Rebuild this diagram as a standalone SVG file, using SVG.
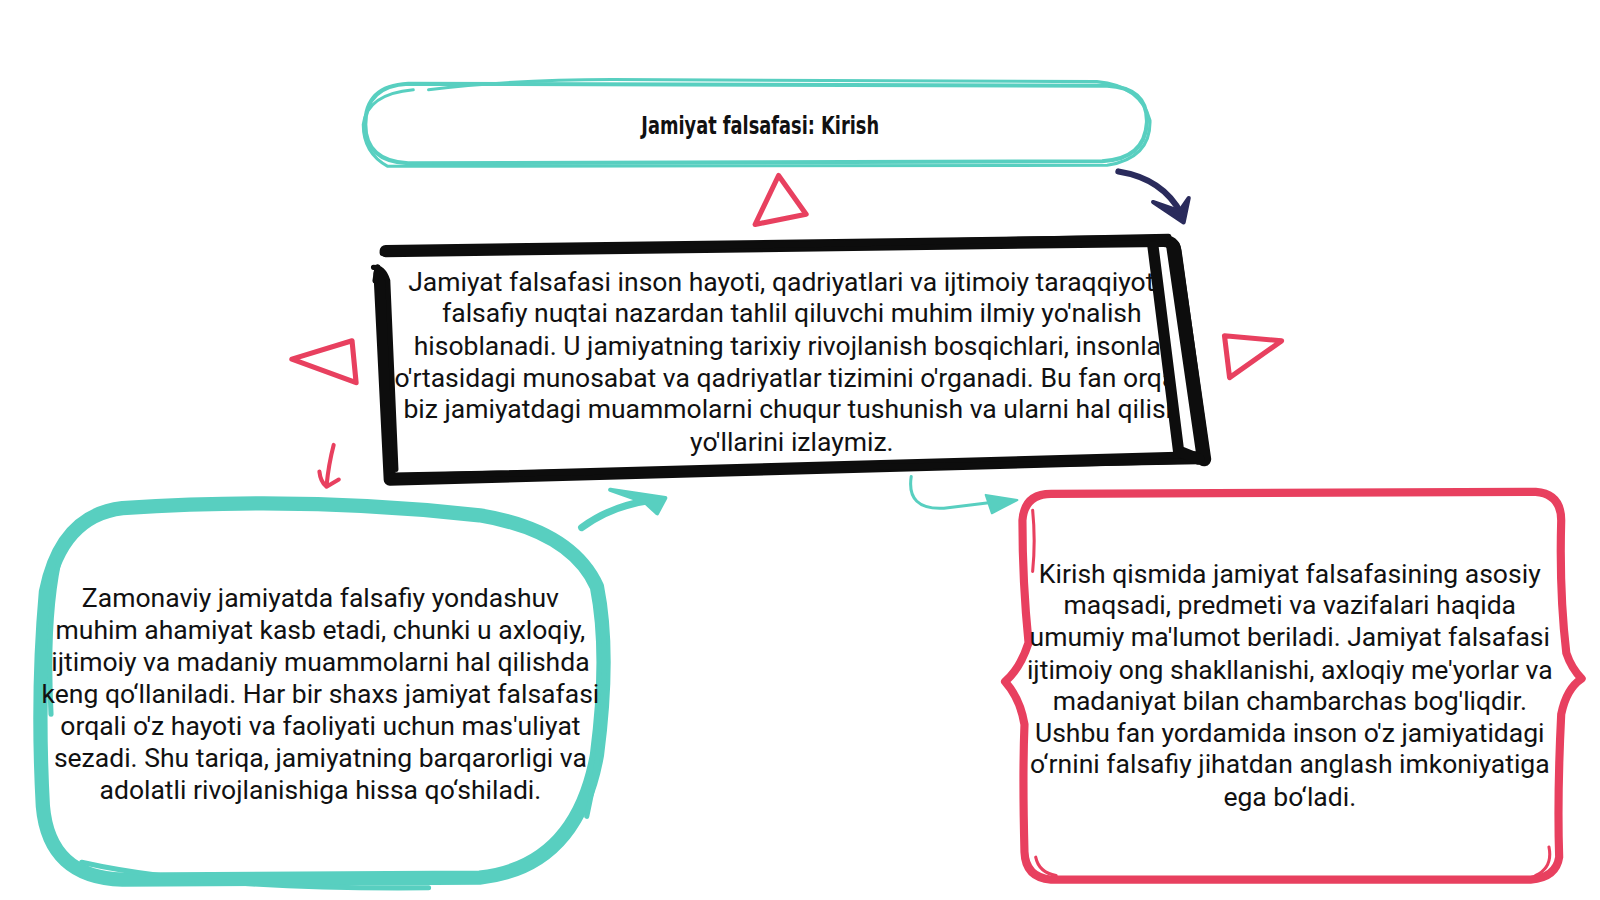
<svg xmlns="http://www.w3.org/2000/svg" width="1600" height="900" viewBox="0 0 1600 900">
<style>
.body{font-family:Roboto,"Liberation Sans",sans-serif;font-size:26px;fill:#111;text-anchor:middle}
.title{font-family:"DejaVu Sans Condensed","Liberation Sans Narrow","Liberation Sans",sans-serif;font-size:25px;font-weight:bold;fill:#111;text-anchor:middle}
.teal{fill:none;stroke:#58cfc0;stroke-linecap:round;stroke-linejoin:round}
.pink{fill:none;stroke:#e8405f;stroke-linecap:round;stroke-linejoin:round}
.blk{fill:none;stroke:#0d0d0d;stroke-linecap:round;stroke-linejoin:round}
</style>
<rect width="1600" height="900" fill="#fff"/>
<g transform="scale(1.0204)">
<g id="title">
<path class="teal" stroke-width="4" d="M400,82 L1085,84 Q1125,86 1124,120 Q1122,156 1080,158 L400,160 Q358,158 358,122 Q358,84 400,82 Z"/>
<path class="teal" stroke-width="3" d="M420,88 Q500,78 600,78 L1075,80 Q1118,84 1127,118 Q1128,155 1085,162 L380,163 Q356,150 356,122 Q360,92 405,88"/>
<text class="title" x="745" y="131" textLength="233" lengthAdjust="spacingAndGlyphs">Jamiyat falsafasi: Kirish</text>
</g>

<g id="main">
<text class="body" x="776" y="285">Jamiyat falsafasi inson hayoti, qadriyatlari va ijtimoiy taraqqiyotni</text>
<text class="body" x="776" y="316">falsafiy nuqtai nazardan tahlil qiluvchi muhim ilmiy yo'nalish</text>
<text class="body" x="776" y="348">hisoblanadi. U jamiyatning tarixiy rivojlanish bosqichlari, insonlar</text>
<text class="body" x="776" y="379">o'rtasidagi munosabat va qadriyatlar tizimini o'rganadi. Bu fan orqali</text>
<text class="body" x="776" y="410">biz jamiyatdagi muammolarni chuqur tushunish va ularni hal qilish</text>
<text class="body" x="776" y="442">yo'llarini izlaymiz.</text>
<polygon fill="#fff" points="1130,236 1200,236 1200,455 1155,450"/>
<path class="blk" stroke-width="12" d="M378,246 L1140,236 Q1150,236 1152,246 L1180,448 L382,470 L372,268"/>
<path class="blk" stroke-width="6" d="M370,262 L368,275 M385,466 L1175,452 M375,248 L1145,232"/>
<path class="blk" stroke-width="14" d="M1150,242 L1180,450"/>
<path class="blk" stroke-width="11" d="M1130,242 L1155,442 L1175,450"/>
<path class="blk" stroke-width="5" d="M366,262 Q376,262 380,275 L388,460"/>
</g>

<g id="left">
<path class="teal" stroke-width="14" d="M120,498 Q300,486 470,505 Q560,520 585,575 Q598,640 585,740 Q565,850 470,860 L120,862 Q48,860 42,790 Q36,680 45,580 Q60,505 120,498 Z"/>
<path class="teal" stroke-width="5" d="M60,540 Q45,600 50,700 M80,845 Q200,872 420,870 M590,600 Q598,700 575,800"/>
<text class="body" x="314" y="595">Zamonaviy jamiyatda falsafiy yondashuv</text>
<text class="body" x="314" y="626">muhim ahamiyat kasb etadi, chunki u axloqiy,</text>
<text class="body" x="314" y="658">ijtimoiy va madaniy muammolarni hal qilishda</text>
<text class="body" x="314" y="689">keng qo‘llaniladi. Har bir shaxs jamiyat falsafasi</text>
<text class="body" x="314" y="720">orqali o'z hayoti va faoliyati uchun mas'uliyat</text>
<text class="body" x="314" y="752">sezadi. Shu tariqa, jamiyatning barqarorligi va</text>
<text class="body" x="314" y="783">adolatli rivojlanishiga hissa qo‘shiladi.</text>
</g>

<g id="right">
<path class="pink" stroke-width="8" d="M1030,484 L1505,482 Q1530,484 1530,510 Q1528,580 1535,640 Q1540,655 1550,665 Q1535,675 1530,700 Q1526,780 1528,840 Q1525,860 1500,862 L1030,862 Q1005,860 1004,835 Q1002,760 1004,710 Q1000,685 985,668 Q1000,655 1008,630 Q1002,570 1002,510 Q1004,484 1030,484 Z"/>
<path class="pink" stroke-width="3" d="M1012,500 Q1015,530 1012,560 M1518,830 Q1522,850 1505,858 M1015,840 Q1018,855 1035,858"/>
<text class="body" x="1264" y="571">Kirish qismida jamiyat falsafasining asosiy</text>
<text class="body" x="1264" y="602">maqsadi, predmeti va vazifalari haqida</text>
<text class="body" x="1264" y="633">umumiy ma'lumot beriladi. Jamiyat falsafasi</text>
<text class="body" x="1264" y="665">ijtimoiy ong shakllanishi, axloqiy me'yorlar va</text>
<text class="body" x="1264" y="696">madaniyat bilan chambarchas bog'liqdir.</text>
<text class="body" x="1264" y="727">Ushbu fan yordamida inson o'z jamiyatidagi</text>
<text class="body" x="1264" y="758">o‘rnini falsafiy jihatdan anglash imkoniyatiga</text>
<text class="body" x="1264" y="790">ega bo‘ladi.</text>
</g>

<g id="connectors">
<path class="pink" stroke-width="5" d="M763,172 L790,210 L740,220 Z"/>
<path class="pink" stroke-width="5" d="M286,352 L345,334 L349,375 Z"/>
<path class="pink" stroke-width="5" d="M1200,329 L1256,334 L1205,370 Z"/>
<path class="pink" stroke-width="4" d="M327,436 Q322,455 320,476 M313,462 Q314,472 320,477 L332,470"/>
<path fill="none" stroke="#2a2b5c" stroke-width="6" stroke-linecap="round" d="M1096,168 Q1140,175 1158,210"/>
<path fill="#2a2b5c" stroke="#2a2b5c" stroke-width="4" stroke-linejoin="round" d="M1130,198 L1160,218 L1165,194 L1156,207 Z"/>
<path class="teal" stroke-width="7" d="M570,517 Q600,495 640,490"/>
<path fill="#58cfc0" stroke="#58cfc0" stroke-width="4" stroke-linejoin="round" d="M598,480 L652,488 L644,503 L632,492 Z"/>
<path class="teal" stroke-width="3" d="M893,467 Q888,500 925,498 L975,492"/>
<path fill="#58cfc0" stroke="#58cfc0" stroke-width="2" stroke-linejoin="round" d="M966,485 L997,490 L972,503 Z"/>
</g>
</g>
</svg>
